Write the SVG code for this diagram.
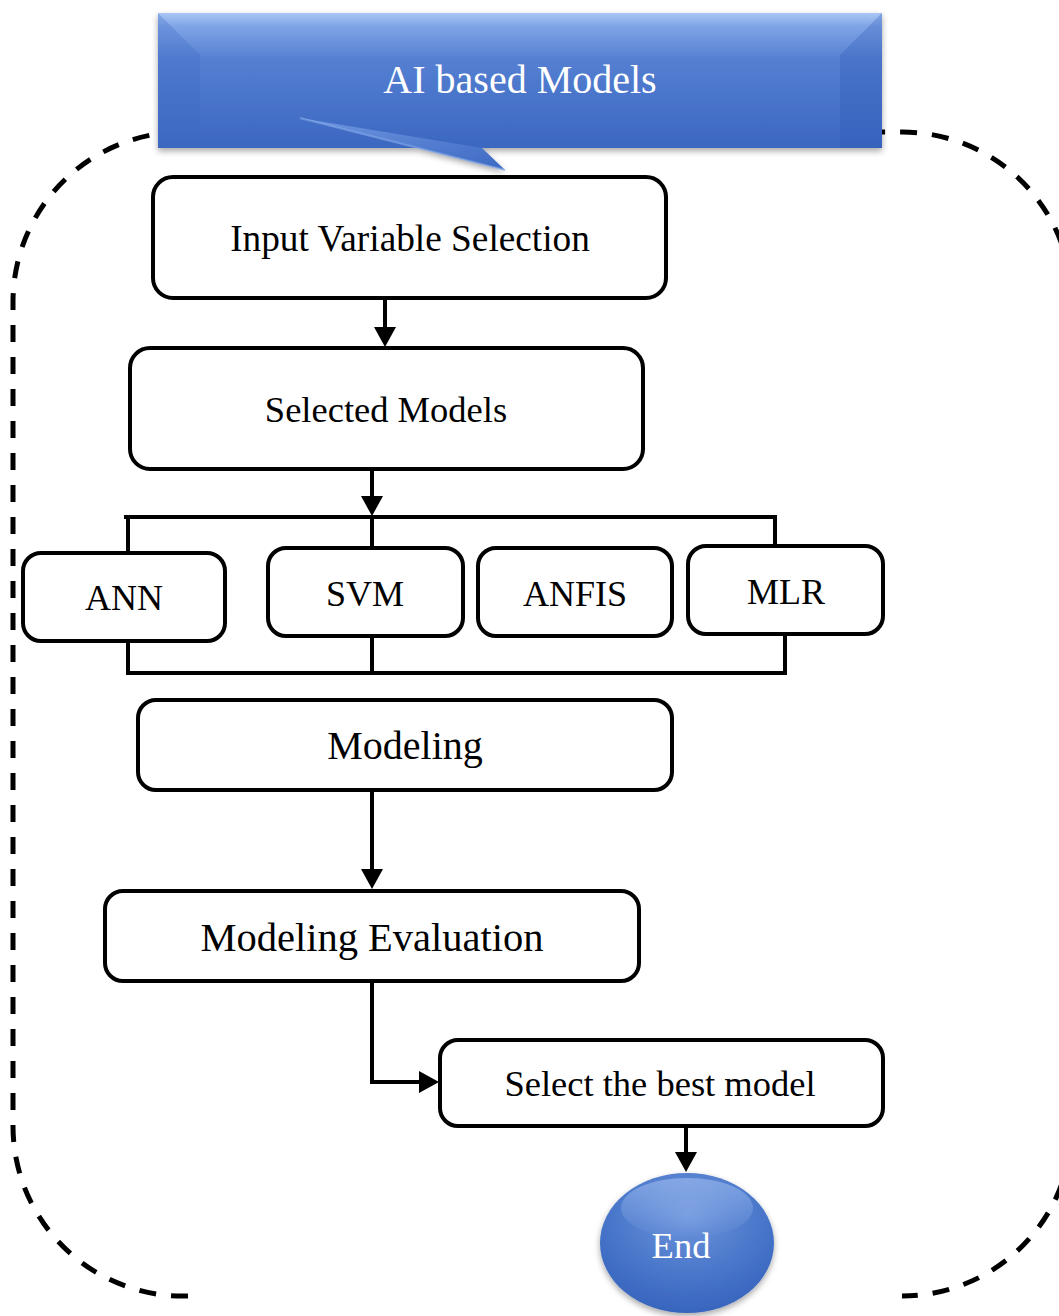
<svg xmlns="http://www.w3.org/2000/svg" width="1059" height="1316" viewBox="0 0 1059 1316">
  <style>
    .box { fill: #ffffff; stroke: #000000; stroke-width: 4; }
    .lbl { font-family: "Liberation Serif", "Times New Roman", serif; fill: #000000; text-anchor: middle; }
    .wlbl { font-family: "Liberation Serif", "Times New Roman", serif; fill: #ffffff; text-anchor: middle; }
    .conn { fill: none; stroke: #000000; stroke-width: 4; }
    .border { fill: none; stroke: #000000; stroke-width: 5; stroke-dasharray: 17 15; }
  </style>
  <defs>
    <marker id="arrow" markerUnits="userSpaceOnUse" markerWidth="20" markerHeight="22" refX="14" refY="11" orient="auto">
      <path d="M0,0 L20,11 L0,22 z" fill="#000000"/>
    </marker>
    <linearGradient id="bannerGrad" x1="0" y1="0" x2="0" y2="1">
      <stop offset="0" stop-color="#a9c6f6"/>
      <stop offset="0.1" stop-color="#7fa4e6"/>
      <stop offset="0.35" stop-color="#547fd1"/>
      <stop offset="1" stop-color="#3b67c1"/>
    </linearGradient>
    <linearGradient id="tailGrad" x1="0" y1="0" x2="1" y2="1">
      <stop offset="0" stop-color="#6f97e0"/>
      <stop offset="1" stop-color="#3d69c3"/>
    </linearGradient>
    <radialGradient id="endGrad" cx="0.5" cy="0.3" r="0.75">
      <stop offset="0" stop-color="#6f95dc"/>
      <stop offset="0.6" stop-color="#4775c9"/>
      <stop offset="1" stop-color="#3561bb"/>
    </radialGradient>
    <linearGradient id="endTop" x1="0" y1="0" x2="0" y2="1">
      <stop offset="0" stop-color="#a8c4f4" stop-opacity="0.55"/>
      <stop offset="1" stop-color="#a8c4f4" stop-opacity="0"/>
    </linearGradient>
    <filter id="shadow" x="-10%" y="-10%" width="120%" height="130%">
      <feDropShadow dx="0" dy="3" stdDeviation="3" flood-color="#000000" flood-opacity="0.35"/>
    </filter>
  </defs>

  <!-- dashed boundary -->
  <path class="border" d="M188,1296 A170,170 0 0 1 13,1126 L13,302 A170,170 0 0 1 183,132 L902,132 A170,170 0 0 1 1072,302 L1072,1126 A170,170 0 0 1 902,1296"/>

  <!-- banner -->
  <g id="banner">
    <g filter="url(#shadow)">
      <rect x="158" y="13" width="724" height="135" fill="url(#bannerGrad)"/>
      <polygon points="300,118 505,170 482,148" fill="url(#tailGrad)"/>
    </g>
    <polygon points="158,13 200,55 200,148 158,148" fill="#3f6bc4" opacity="0.3"/>
    <polygon points="882,13 840,55 840,148 882,148" fill="#2f5bb5" opacity="0.3"/>
    <path d="M300,118 L505,170" stroke="#86aaea" stroke-width="2" opacity="0.6"/>
    <text class="wlbl" x="520" y="93" font-size="40">AI based Models</text>
  </g>

  <!-- connectors -->
  <g id="connectors">
    <line class="conn" x1="385" y1="298" x2="385" y2="341" marker-end="url(#arrow)"/>
    <line class="conn" x1="372" y1="469" x2="372" y2="510" marker-end="url(#arrow)"/>
    <path class="conn" d="M128,553 V517 M124,517 H777 M775,517 V546 M372,517 V548"/>
    <path class="conn" d="M128,641 V673 H787 M785,673 V634 M372,636 V673"/>
    <line class="conn" x1="372" y1="790" x2="372" y2="883" marker-end="url(#arrow)"/>
    <path class="conn" d="M372,981 V1082 H433" marker-end="url(#arrow)"/>
    <line class="conn" x1="686" y1="1126" x2="686" y2="1166" marker-end="url(#arrow)"/>
  </g>

  <g id="input">
    <rect class="box" x="153" y="177" width="513" height="121" rx="20"/>
    <text class="lbl" x="410" y="251" font-size="37.3">Input Variable Selection</text>
  </g>
  <g id="selected">
    <rect class="box" x="130" y="348" width="513" height="121" rx="20"/>
    <text class="lbl" x="386" y="422" font-size="36.5">Selected Models</text>
  </g>
  <g id="ann">
    <rect class="box" x="23" y="553" width="202" height="88" rx="18"/>
    <text class="lbl" x="124" y="610" font-size="36">ANN</text>
  </g>
  <g id="svm">
    <rect class="box" x="268" y="548" width="195" height="88" rx="18"/>
    <text class="lbl" x="365" y="606" font-size="36">SVM</text>
  </g>
  <g id="anfis">
    <rect class="box" x="478" y="548" width="194" height="88" rx="18"/>
    <text class="lbl" x="575" y="606" font-size="36">ANFIS</text>
  </g>
  <g id="mlr">
    <rect class="box" x="688" y="546" width="195" height="88" rx="18"/>
    <text class="lbl" x="786" y="604" font-size="36">MLR</text>
  </g>
  <g id="modeling">
    <rect class="box" x="138" y="700" width="534" height="90" rx="18"/>
    <text class="lbl" x="405" y="759" font-size="40">Modeling</text>
  </g>
  <g id="evaluation">
    <rect class="box" x="105" y="891" width="534" height="90" rx="18"/>
    <text class="lbl" x="372" y="951" font-size="40.5">Modeling Evaluation</text>
  </g>
  <g id="best">
    <rect class="box" x="440" y="1040" width="443" height="86" rx="18"/>
    <text class="lbl" x="660" y="1096" font-size="36.5">Select the best model</text>
  </g>
  <g id="end">
    <ellipse cx="687" cy="1243" rx="87" ry="70" fill="url(#endGrad)" filter="url(#shadow)"/>
    <ellipse cx="687" cy="1208" rx="66" ry="30" fill="url(#endTop)"/>
    <text class="wlbl" x="681" y="1258" font-size="36.5">End</text>
  </g>
</svg>
